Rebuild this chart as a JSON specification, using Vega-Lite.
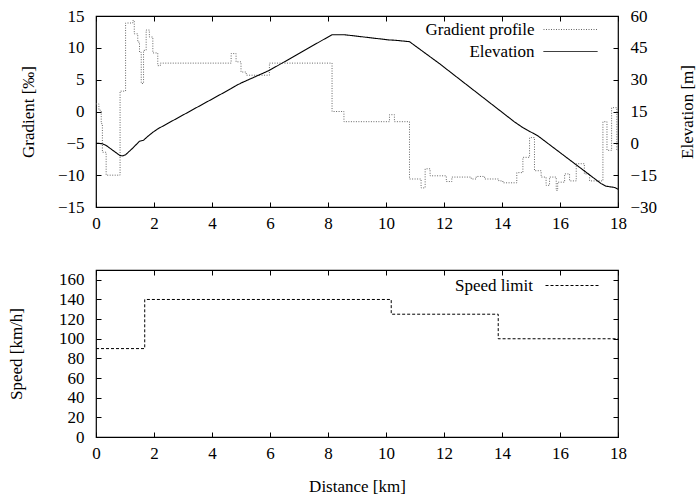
{
  "$schema": "https://vega.github.io/schema/vega-lite/v6.json",
  "padding": {"left": 6, "top": 6, "right": 2, "bottom": 2},
  "bounds": "flush",
  "spacing": 63,
  "datasets": {
    "grad": [
      {"d": 0, "g": 1.2, "s": "Gradient profile"},
      {"d": 0.1, "g": 0.2, "s": "Gradient profile"},
      {"d": 0.18, "g": -1.9, "s": "Gradient profile"},
      {"d": 0.22, "g": -6.4, "s": "Gradient profile"},
      {"d": 0.35, "g": -10, "s": "Gradient profile"},
      {"d": 0.83, "g": 3.2, "s": "Gradient profile"},
      {"d": 1.02, "g": 13.9, "s": "Gradient profile"},
      {"d": 1.27, "g": 14.3, "s": "Gradient profile"},
      {"d": 1.32, "g": 12.2, "s": "Gradient profile"},
      {"d": 1.44, "g": 10.9, "s": "Gradient profile"},
      {"d": 1.5, "g": 9.3, "s": "Gradient profile"},
      {"d": 1.56, "g": 4.4, "s": "Gradient profile"},
      {"d": 1.64, "g": 9.6, "s": "Gradient profile"},
      {"d": 1.73, "g": 12.8, "s": "Gradient profile"},
      {"d": 1.84, "g": 11.7, "s": "Gradient profile"},
      {"d": 1.96, "g": 9.2, "s": "Gradient profile"},
      {"d": 2.13, "g": 7.2, "s": "Gradient profile"},
      {"d": 2.22, "g": 7.6, "s": "Gradient profile"},
      {"d": 4.66, "g": 9.1, "s": "Gradient profile"},
      {"d": 4.83, "g": 7.8, "s": "Gradient profile"},
      {"d": 5.0, "g": 6.2, "s": "Gradient profile"},
      {"d": 5.18, "g": 5.7, "s": "Gradient profile"},
      {"d": 5.98, "g": 7.6, "s": "Gradient profile"},
      {"d": 8.14, "g": 0, "s": "Gradient profile"},
      {"d": 8.55, "g": -1.6, "s": "Gradient profile"},
      {"d": 10.12, "g": -0.5, "s": "Gradient profile"},
      {"d": 10.29, "g": -1.6, "s": "Gradient profile"},
      {"d": 10.81, "g": -10.6, "s": "Gradient profile"},
      {"d": 11.21, "g": -12.0, "s": "Gradient profile"},
      {"d": 11.35, "g": -9.0, "s": "Gradient profile"},
      {"d": 11.52, "g": -10.1, "s": "Gradient profile"},
      {"d": 12.08, "g": -11.0, "s": "Gradient profile"},
      {"d": 12.27, "g": -10.3, "s": "Gradient profile"},
      {"d": 12.94, "g": -10.6, "s": "Gradient profile"},
      {"d": 13.11, "g": -10.2, "s": "Gradient profile"},
      {"d": 13.4, "g": -10.6, "s": "Gradient profile"},
      {"d": 13.89, "g": -10.9, "s": "Gradient profile"},
      {"d": 14.03, "g": -11.2, "s": "Gradient profile"},
      {"d": 14.51, "g": -9.6, "s": "Gradient profile"},
      {"d": 14.72, "g": -7.2, "s": "Gradient profile"},
      {"d": 14.95, "g": -4.1, "s": "Gradient profile"},
      {"d": 15.12, "g": -9.3, "s": "Gradient profile"},
      {"d": 15.35, "g": -10.3, "s": "Gradient profile"},
      {"d": 15.52, "g": -11.6, "s": "Gradient profile"},
      {"d": 15.64, "g": -10.3, "s": "Gradient profile"},
      {"d": 15.87, "g": -12.4, "s": "Gradient profile"},
      {"d": 15.92, "g": -11.1, "s": "Gradient profile"},
      {"d": 16.16, "g": -9.8, "s": "Gradient profile"},
      {"d": 16.33, "g": -10.9, "s": "Gradient profile"},
      {"d": 16.56, "g": -8.2, "s": "Gradient profile"},
      {"d": 16.84, "g": -9.8, "s": "Gradient profile"},
      {"d": 17.02, "g": -10.9, "s": "Gradient profile"},
      {"d": 17.48, "g": -1.6, "s": "Gradient profile"},
      {"d": 17.62, "g": -6.1, "s": "Gradient profile"},
      {"d": 17.78, "g": 0.6, "s": "Gradient profile"},
      {"d": 17.96, "g": -6.1, "s": "Gradient profile"},
      {"d": 18, "g": -6.1, "s": "Gradient profile"}
    ],
    "elev": [
      {"d": 0, "e": 0, "s": "Elevation"},
      {"d": 0.1, "e": 0, "s": "Elevation"},
      {"d": 0.22, "e": -0.2, "s": "Elevation"},
      {"d": 0.35, "e": -1.0, "s": "Elevation"},
      {"d": 0.83, "e": -5.8, "s": "Elevation"},
      {"d": 0.92, "e": -5.9, "s": "Elevation"},
      {"d": 1.02, "e": -5.4, "s": "Elevation"},
      {"d": 1.27, "e": -2.2, "s": "Elevation"},
      {"d": 1.5, "e": 1.0, "s": "Elevation"},
      {"d": 1.64, "e": 1.5, "s": "Elevation"},
      {"d": 1.73, "e": 2.6, "s": "Elevation"},
      {"d": 1.84, "e": 3.9, "s": "Elevation"},
      {"d": 1.96, "e": 5.2, "s": "Elevation"},
      {"d": 2.13, "e": 6.8, "s": "Elevation"},
      {"d": 4.66, "e": 25.8, "s": "Elevation"},
      {"d": 4.83, "e": 27.2, "s": "Elevation"},
      {"d": 5.0, "e": 28.4, "s": "Elevation"},
      {"d": 5.18, "e": 29.5, "s": "Elevation"},
      {"d": 5.98, "e": 34.4, "s": "Elevation"},
      {"d": 8.14, "e": 51.2, "s": "Elevation"},
      {"d": 8.55, "e": 51.2, "s": "Elevation"},
      {"d": 10.12, "e": 48.7, "s": "Elevation"},
      {"d": 10.29, "e": 48.6, "s": "Elevation"},
      {"d": 10.81, "e": 47.9, "s": "Elevation"},
      {"d": 11.84, "e": 37.6, "s": "Elevation"},
      {"d": 14.43, "e": 10.1, "s": "Elevation"},
      {"d": 14.72, "e": 7.4, "s": "Elevation"},
      {"d": 14.89, "e": 6.1, "s": "Elevation"},
      {"d": 15.23, "e": 3.6, "s": "Elevation"},
      {"d": 17.42, "e": -19.0, "s": "Elevation"},
      {"d": 17.59, "e": -20.2, "s": "Elevation"},
      {"d": 17.88, "e": -20.8, "s": "Elevation"},
      {"d": 18, "e": -21.6, "s": "Elevation"}
    ],
    "speed": [
      {"d": 0, "v": 90, "s": "Speed limit"},
      {"d": 1.68, "v": 140, "s": "Speed limit"},
      {"d": 10.18, "v": 125, "s": "Speed limit"},
      {"d": 13.87, "v": 100, "s": "Speed limit"},
      {"d": 18, "v": 100, "s": "Speed limit"}
    ]
  },
  "vconcat": [
    {
      "width": 522,
      "height": 191,
      "layer": [
        {
          "data": {"name": "grad"},
          "mark": {"type": "line", "interpolate": "step-after", "strokeWidth": 1},
          "encoding": {
            "x": {"field": "d", "type": "quantitative", "scale": {"domain": [0, 18], "nice": false},
                  "axis": {"orient": "bottom", "title": null, "values": [0,2,4,6,8,10,12,14,16,18]}},
            "y": {"field": "g", "type": "quantitative", "scale": {"domain": [-15, 15], "nice": false},
                  "axis": {"orient": "left", "title": "Gradient [‰]", "values": [-15,-10,-5,0,5,10,15], "titlePadding": 20}},
            "color": {"field": "s", "type": "nominal",
                      "scale": {"domain": ["Gradient profile", "Elevation"], "range": ["#666666", "#000000"]},
                      "legend": {"title": null, "orient": "none", "legendX": 466, "legendY": 5}},
            "strokeDash": {"field": "s", "type": "nominal",
                      "scale": {"domain": ["Gradient profile", "Elevation"], "range": [[1, 1.5], [1, 0]]},
                      "legend": {"title": null, "orient": "none", "legendX": 466, "legendY": 5}}
          }
        },
        {
          "data": {"name": "elev"},
          "mark": {"type": "line", "strokeWidth": 1.1},
          "encoding": {
            "x": {"field": "d", "type": "quantitative", "scale": {"domain": [0, 18], "nice": false},
                  "axis": {"orient": "top", "title": null, "labels": false, "values": [0,2,4,6,8,10,12,14,16,18]}},
            "y": {"field": "e", "type": "quantitative", "scale": {"domain": [-30, 60], "nice": false},
                  "axis": {"orient": "right", "title": "Elevation [m]", "values": [-30,-15,0,15,30,45,60], "titlePadding": 23, "titleAngle": 270, "titleBaseline": "top"}},
            "color": {"field": "s", "type": "nominal",
                      "scale": {"domain": ["Gradient profile", "Elevation"], "range": ["#666666", "#000000"]},
                      "legend": {"title": null, "orient": "none", "legendX": 466, "legendY": 5}},
            "strokeDash": {"field": "s", "type": "nominal",
                      "scale": {"domain": ["Gradient profile", "Elevation"], "range": [[1, 1.5], [1, 0]]},
                      "legend": {"title": null, "orient": "none", "legendX": 466, "legendY": 5}}
          }
        }
      ],
      "resolve": {"scale": {"y": "independent"}, "axis": {"x": "independent"}}
    },
    {
      "width": 522,
      "height": 167,
      "data": {"name": "speed"},
      "layer": [
        {
          "mark": {"type": "line", "interpolate": "step-after", "strokeWidth": 1},
          "encoding": {
            "x": {"field": "d", "type": "quantitative", "scale": {"domain": [0, 18], "nice": false},
                  "axis": {"orient": "bottom", "title": "Distance [km]", "values": [0,2,4,6,8,10,12,14,16,18], "titlePadding": 17}},
            "y": {"field": "v", "type": "quantitative", "scale": {"domain": [0, 170], "nice": false},
                  "axis": {"orient": "left", "title": "Speed [km/h]", "values": [0,20,40,60,80,100,120,140,160], "titlePadding": 33}},
            "color": {"field": "s", "type": "nominal", "scale": {"domain": ["Speed limit"], "range": ["#000000"]},
                      "legend": {"title": null, "orient": "none", "legendX": 468, "legendY": 7, "labelOffset": -48}},
            "strokeDash": {"field": "s", "type": "nominal", "scale": {"domain": ["Speed limit"], "range": [[3, 2]]},
                      "legend": {"title": null, "orient": "none", "legendX": 468, "legendY": 7, "labelOffset": -48}}
          }
        },
        {
          "mark": {"type": "line", "opacity": 0},
          "encoding": {
            "x": {"field": "d", "type": "quantitative", "scale": {"domain": [0, 18], "nice": false},
                  "axis": {"orient": "top", "title": null, "labels": false, "values": [0,2,4,6,8,10,12,14,16,18]}},
            "y": {"field": "v", "type": "quantitative", "scale": {"domain": [0, 170], "nice": false},
                  "axis": {"orient": "right", "title": null, "labels": false, "values": [0,20,40,60,80,100,120,140,160]}}
          }
        }
      ],
      "resolve": {"axis": {"x": "independent", "y": "independent"}}
    }
  ],
  "resolve": {"scale": {"color": "independent", "strokeDash": "independent"}, "legend": {"color": "independent", "strokeDash": "independent"}},
  "config": {
    "font": "Liberation Serif",
    "view": {"stroke": "#000000", "strokeWidth": 1.2},
    "axis": {
      "labelFont": "Liberation Serif",
      "titleFont": "Liberation Serif",
      "labelFontSize": 17,
      "titleFontSize": 17,
      "titleFontWeight": "normal",
      "labelColor": "#000000",
      "titleColor": "#000000",
      "tickColor": "#000000",
      "tickSize": -5,
      "labelPadding": 13,
      "labelFlush": false,
      "domain": false,
      "grid": false
    },
    "axisLeft": {"labelPadding": 17},
    "axisRight": {"labelPadding": 17},
    "legend": {
      "labelFont": "Liberation Serif",
      "labelFontSize": 17,
      "labelColor": "#000000",
      "symbolType": "M-5,0H5",
      "symbolSize": 116.6,
      "symbolStrokeWidth": 1,
      "labelAlign": "right",
      "labelOffset": -44.4,
      "rowPadding": 4,
      "padding": 0
    }
  }
}
